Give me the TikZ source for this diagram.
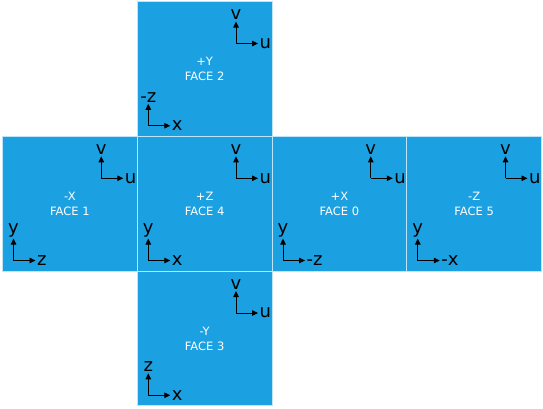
\documentclass[tikz,border=0pt]{standalone}
\usepackage{fontspec}
\setmainfont{DejaVu Sans}
\usetikzlibrary{arrows.meta,positioning}

\definecolor{faceblue}{RGB}{27,161,226}
\definecolor{faceedge}{RGB}{190,228,247}

\begin{document}
\begin{tikzpicture}[
        x=1pt, y=1pt,
        node distance=0pt,
        face/.style={draw=faceedge, fill=faceblue, line width=1pt,
            minimum size=134.75pt, inner sep=0pt, outer sep=0pt,
            text=white, align=center, font=\fontsize{11.5}{15}\selectfont},
        axlbl/.style={inner sep=1.5pt, font=\fontsize{18}{18}\selectfont},
        ax/.style={-{Triangle[length=6pt, width=5.5pt]}, line width=0.9pt}
    ]
        \useasboundingbox (0,0) rectangle (543,-408);
        \node[face] at (69.9,-203.65) (f1) {-X\\FACE 1};
        \node[face, right=of f1] (f4) {+Z\\FACE 4};
        \node[face, right=of f4] (f0) {+X\\FACE 0};
        \node[face, right=of f0] (f5) {-Z\\FACE 5};
        \node[face, above=of f4] (f2) {+Y\\FACE 2};
        \node[face, below=of f4] (f3) {-Y\\FACE 3};
        % u/v axes top right, face axes bottom left
        \foreach \fa/\ha/\va in {f1/z/y, f4/x/y, f0/-z/y, f5/-x/y, f2/x/-z, f3/x/z} {
            \coordinate (\fa-uv) at ([shift={(-36,-42)}]\fa.north east);
            \node[axlbl, anchor=south] at ([yshift=22]\fa-uv) (\fa-v) {v};
            \node[axlbl, anchor=west] at ([xshift=22]\fa-uv) (\fa-u) {u};
            \draw[ax] (\fa-uv) -- (\fa-v);
            \draw[ax] (\fa-uv) -- (\fa-u);
            \coordinate (\fa-o) at ([shift={(11,10.5)}]\fa.south west);
            \node[axlbl, anchor=south] at ([yshift=22]\fa-o) (\fa-va) {\va};
            \node[axlbl, anchor=west] at ([xshift=22]\fa-o) (\fa-ha) {\ha};
            \draw[ax] (\fa-o) -- (\fa-va);
            \draw[ax] (\fa-o) -- (\fa-ha);
        }
    \end{tikzpicture}
\end{document}
